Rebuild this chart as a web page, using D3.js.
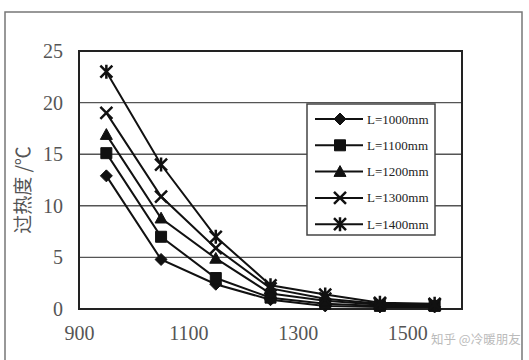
<!DOCTYPE html>
<html><head><meta charset="utf-8">
<script src="https://cdn.jsdelivr.net/npm/d3@7"></script>
<style>html,body{margin:0;padding:0;background:#fff;overflow:hidden}</style>
</head><body>
<svg id="c" width="529" height="360"></svg>
<script>
const xValues = [950, 1050, 1150, 1250, 1350, 1450, 1550];
const seriesNames = ["L=1000mm", "L=1100mm", "L=1200mm", "L=1300mm", "L=1400mm"];
const s1000 = [12.9, 4.8, 2.4, 0.9, 0.3, 0.2, 0.2];
const s1100 = [15.1, 7.0, 3.0, 1.1, 0.5, 0.3, 0.3];
const s1200 = [16.9, 8.8, 4.9, 1.5, 0.8, 0.4, 0.3];
const s1300 = [19.0, 10.9, 5.9, 2.0, 1.0, 0.5, 0.4];
const s1400 = [23.0, 14.0, 7.0, 2.3, 1.4, 0.6, 0.5];
const seriesValues = [s1000, s1100, s1200, s1300, s1400];
const markerTypes = ["diamond", "square", "triangle", "cross", "star"];
const xTicks = [900, 1100, 1300, 1500];
const yTicks = [0, 5, 10, 15, 20, 25];

const svg = d3.select("#c");
const L = 79, R = 462, T = 51, B = 309;
const x = d3.scaleLinear().domain([900, 1600]).range([L, R]);
const y = d3.scaleLinear().domain([0, 25]).range([B, T]);

// outer frame
svg.append("path").attr("d", "M5,400 L5,12 L522,12 L522,400")
  .attr("fill", "none").attr("stroke", "#777").attr("stroke-width", 1.5);

// gridlines
svg.append("g").selectAll("line").data(yTicks.filter(d => d > 0 && d < 25)).join("line")
  .attr("x1", L).attr("x2", R).attr("y1", d => y(d)).attr("y2", d => y(d))
  .attr("stroke", "#555").attr("stroke-width", 1.4);

// plot border
svg.append("rect").attr("x", L).attr("y", T).attr("width", R - L).attr("height", B - T)
  .attr("fill", "none").attr("stroke", "#222").attr("stroke-width", 2);

// y ticks labels
const yAxis = d3.axisLeft(y).tickValues(yTicks).tickSize(0).tickPadding(16).tickFormat(d3.format("d"));
const yg = svg.append("g").attr("transform", `translate(${L},0)`).call(yAxis);
yg.select(".domain").remove();
yg.selectAll("text").attr("font-family", "Liberation Serif").attr("font-size", 20).attr("fill", "#555");

const xAxis = d3.axisBottom(x).tickValues(xTicks).tickSize(0).tickPadding(17).tickFormat(d3.format("d"));
const xg = svg.append("g").attr("transform", `translate(0,${B})`).call(xAxis);
xg.select(".domain").remove();
xg.selectAll("text").attr("font-family", "Liberation Serif").attr("font-size", 20).attr("fill", "#555");

// y label
svg.append("text").attr("transform", "translate(30,190) rotate(-90)")
  .attr("text-anchor", "middle").attr("font-family", "Noto Sans CJK SC")
  .attr("font-size", 19).attr("fill", "#555").text("过热度 /℃");

function markerPath(type, s) {
  const h = s / 2;
  switch (type) {
    case "diamond": return `M0,${-h}L${h},0L0,${h}L${-h},0Z`;
    case "square": return `M${-h + 0.5},${-h + 0.5}H${h - 0.5}V${h - 0.5}H${-h + 0.5}Z`;
    case "triangle": return `M0,${-h}L${h},${h * 0.8}L${-h},${h * 0.8}Z`;
    case "cross": return `M${-h},${-h}L${h},${h}M${-h},${h}L${h},${-h}`;
    case "star": return `M${-h},${-h}L${h},${h}M${-h},${h}L${h},${-h}M0,${-h - 1}L0,${h + 1}`;
  }
}
function drawMarker(g, type, cx, cy, s) {
  const filled = ["diamond", "square", "triangle"].includes(type);
  g.append("path").attr("transform", `translate(${cx},${cy})`)
    .attr("d", markerPath(type, s))
    .attr("fill", filled ? "#111" : "none")
    .attr("stroke", "#111").attr("stroke-width", filled ? 1 : 2.5);
}

const line = d3.line().x((d, i) => x(xValues[i])).y(d => y(d));
const plot = svg.append("g");
seriesValues.forEach((vals, k) => {
  plot.append("path").attr("d", line(vals)).attr("fill", "none")
    .attr("stroke", "#111").attr("stroke-width", 2);
});
seriesValues.forEach((vals, k) => {
  vals.forEach((v, i) => drawMarker(plot, markerTypes[k], x(xValues[i]), y(v), 12));
});

// legend
const lg = svg.append("g");
lg.append("rect").attr("x", 307).attr("y", 104).attr("width", 128).attr("height", 131)
  .attr("fill", "#fff").attr("stroke", "#444").attr("stroke-width", 1.5);
seriesNames.forEach((n, k) => {
  const yy = 119 + k * 26.3;
  lg.append("line").attr("x1", 315).attr("x2", 363).attr("y1", yy).attr("y2", yy)
    .attr("stroke", "#111").attr("stroke-width", 2);
  drawMarker(lg, markerTypes[k], 340, yy, 12);
  lg.append("text").attr("x", 367).attr("y", yy + 4.5).attr("font-family", "Liberation Serif")
    .attr("font-size", 13).attr("fill", "#222").text(n);
});

// watermark
svg.append("text").attr("x", 431).attr("y", 344).attr("font-family", "Noto Sans CJK SC")
  .attr("font-size", 12.5).attr("fill", "#bbb").text("知乎 @冷暖朋友");
</script>
</body></html>
